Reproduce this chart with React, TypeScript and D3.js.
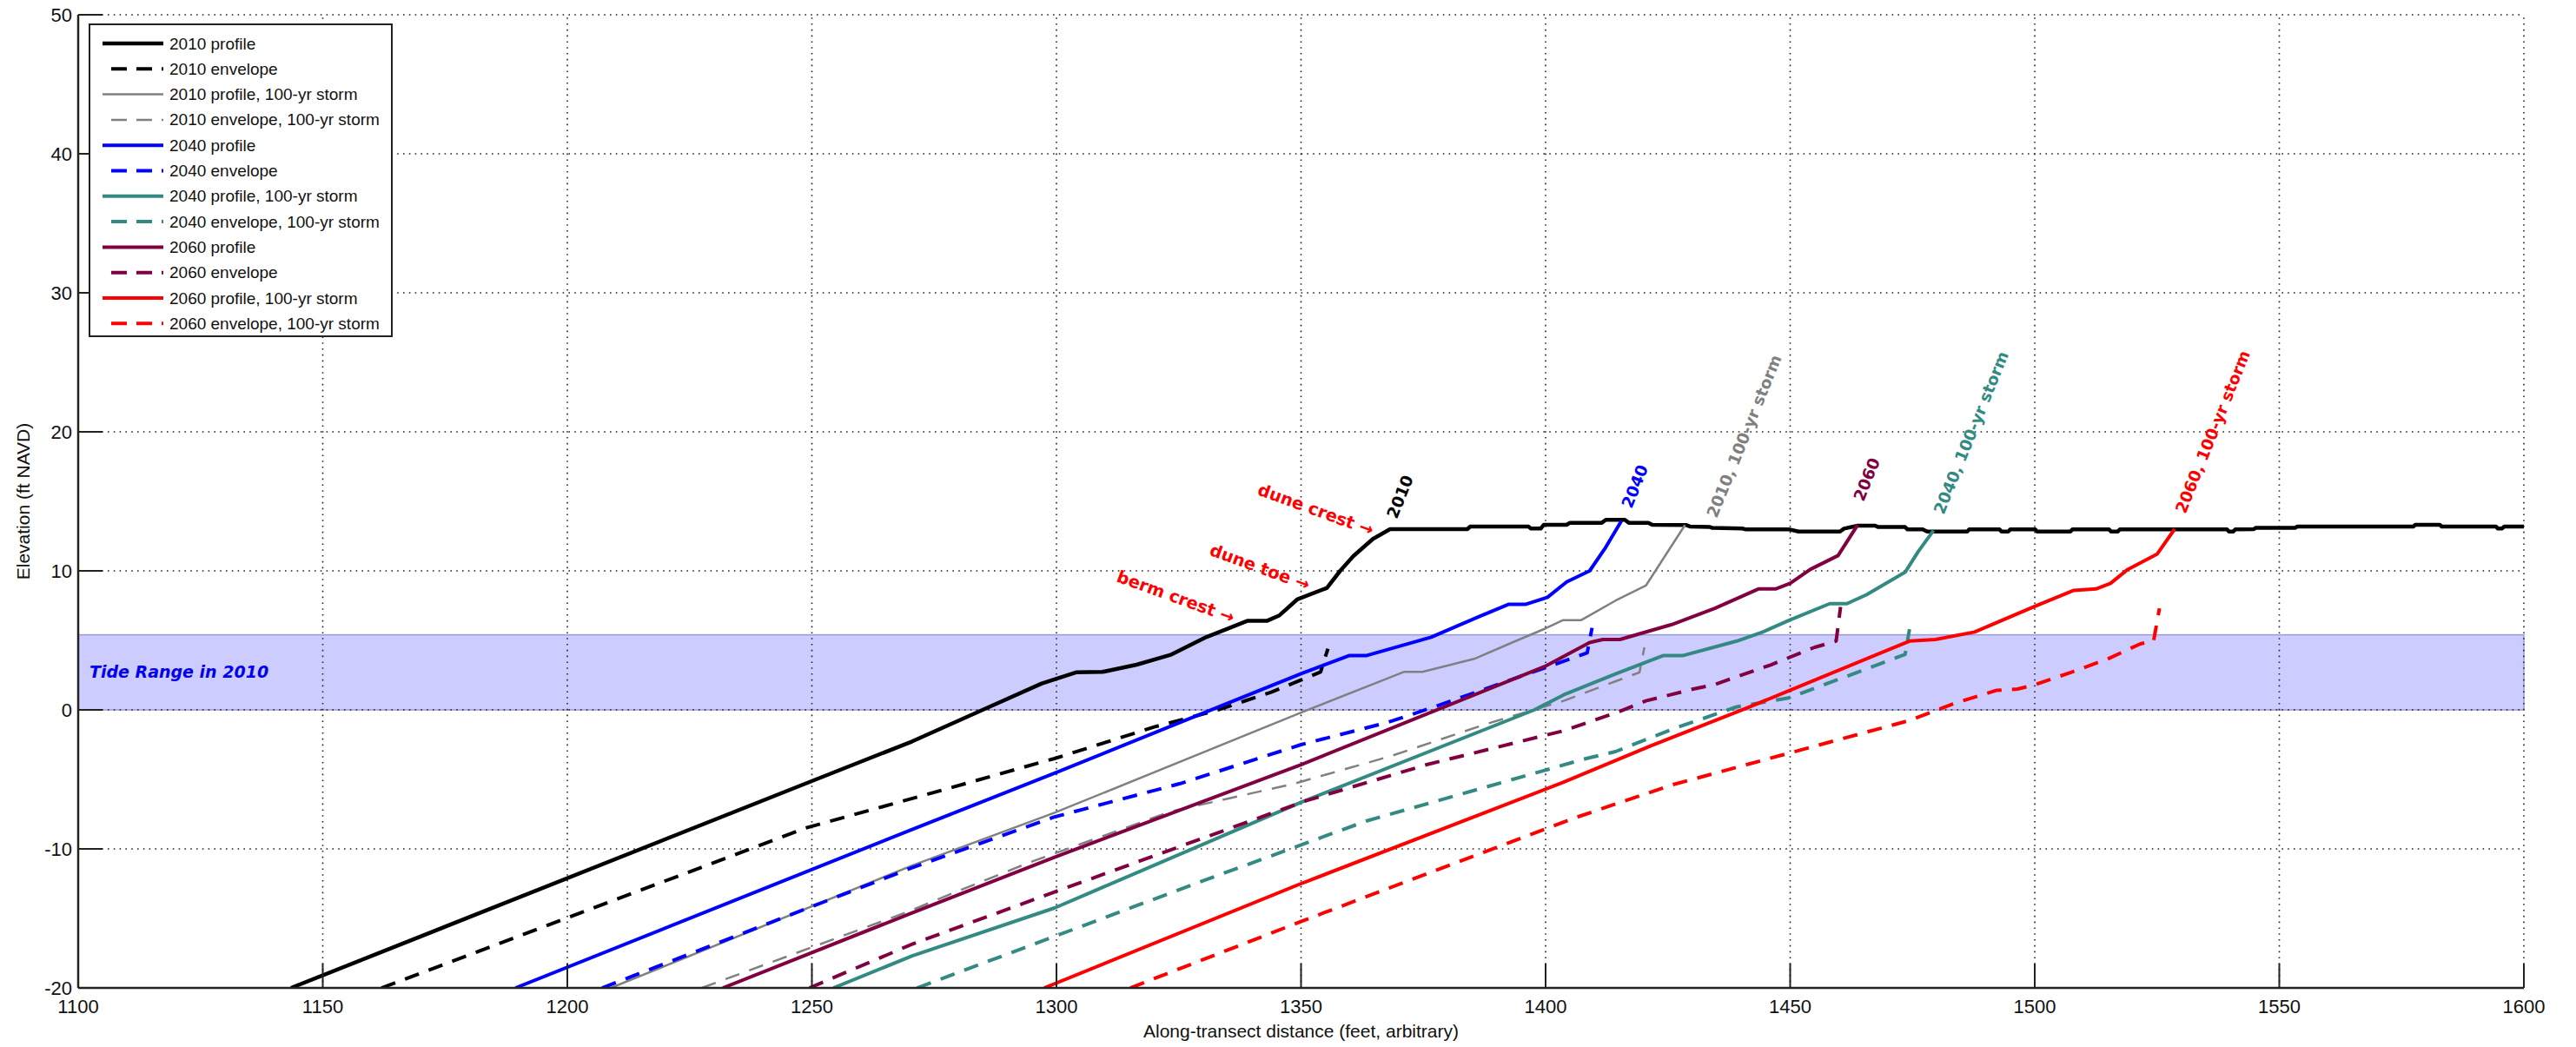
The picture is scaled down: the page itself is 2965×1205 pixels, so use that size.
import React from 'react';
import * as d3 from 'd3';

type Pt = [number, number];

// ---------- axis ticks ----------
const xTicks = [1100, 1150, 1200, 1250, 1300, 1350, 1400, 1450, 1500, 1550, 1600];
const yTicks = [-20, -10, 0, 10, 20, 30, 40, 50];

// ---------- tide range (ft NAVD) ----------
const tideRange: [number, number] = [0, 5.4];

// ---------- series (distance ft, elevation ft NAVD) ----------
const profile2010: Pt[] = [
  [1143.5, -20], [1250.3, -5.08], [1270.5, -2.27], [1286.4, 0.23], [1297, 1.9], [1304, 2.7],
  [1309.4, 2.73], [1316.4, 3.25], [1323.5, 3.98], [1330.6, 5.23], [1339, 6.4], [1343, 6.4],
  [1345.6, 6.8], [1349.2, 7.94], [1355.3, 8.77], [1358, 10.0], [1360.7, 11.06], [1364.7, 12.3],
  [1368.2, 13.0], [1384, 13.0], [1384.6, 13.19], [1396.5, 13.19], [1397, 13.04], [1399, 13.04],
  [1399.6, 13.31], [1404.3, 13.31], [1405, 13.46], [1411.5, 13.46], [1412.3, 13.67], [1416.2, 13.67],
  [1417, 13.46], [1421, 13.46], [1421.8, 13.31], [1428.7, 13.3], [1429.5, 13.19], [1433.6, 13.15],
  [1434, 13.1], [1440.2, 13.05], [1441, 12.98], [1449.9, 12.98], [1451.7, 12.83], [1460.2, 12.83],
  [1461, 13.04], [1463.8, 13.25], [1467.4, 13.25], [1468, 13.15], [1473.5, 13.15], [1474, 12.98],
  [1477.1, 12.98], [1478, 12.83], [1486.2, 12.83], [1486.6, 12.98], [1492.8, 12.98], [1493.2, 12.83],
  [1494.6, 12.83], [1495, 12.98], [1500.1, 12.98], [1500.5, 12.83], [1507.3, 12.83], [1507.7, 12.98],
  [1515.2, 12.98], [1515.6, 12.83], [1517, 12.83], [1517.4, 12.98], [1539.3, 12.98], [1539.7, 12.83],
  [1540.6, 12.83], [1541, 12.98], [1544.8, 13.0], [1545.2, 13.1], [1553.3, 13.1], [1553.7, 13.19],
  [1577.4, 13.19], [1577.8, 13.31], [1582.8, 13.31], [1583.2, 13.19], [1594.3, 13.19], [1594.7, 13.04],
  [1595.5, 13.04], [1596, 13.19], [1600, 13.19],
];
const envelope2010: Pt[] = [
  [1162, -20], [1248.7, -8.5], [1272.3, -6.2], [1299.6, -3.5], [1320, -1.23], [1332.3, -0.08],
  [1343.9, 1.27], [1354, 2.73], [1355.5, 4.4],
];
const profile2010Storm: Pt[] = [
  [1208.9, -20], [1270.5, -11.2], [1299.6, -7.4], [1350, -0.2], [1371, 2.73], [1374.8, 2.73],
  [1385.4, 3.67], [1394.2, 5.0], [1400, 5.86], [1403.5, 6.45], [1407.3, 6.46], [1409.5, 6.9],
  [1414.3, 7.86], [1420.5, 8.94], [1428.5, 13.3],
];
const envelope2010Storm: Pt[] = [
  [1227.5, -20], [1269.8, -14.5], [1279.4, -13.1], [1294.3, -11.0], [1323.5, -7.3], [1348.7, -5.3],
  [1368.6, -3.3], [1388, -1.0], [1403.7, 0.65], [1412.6, 1.83], [1419.2, 2.7], [1420.2, 4.5],
];
const profile2040: Pt[] = [
  [1189.4, -20], [1270.5, -8.6], [1299.6, -4.56], [1325.3, -0.9], [1350, 2.6], [1359.8, 3.9],
  [1363.3, 3.9], [1376.6, 5.23], [1386.3, 6.7], [1392.5, 7.6], [1396, 7.6], [1400.4, 8.1],
  [1404.3, 9.2], [1409, 10.0], [1412.3, 11.7], [1415.5, 13.6],
];
const envelope2040: Pt[] = [
  [1207.1, -20], [1270.5, -11.35], [1299.6, -7.7], [1325.3, -5.3], [1350, -2.5], [1367.7, -0.9],
  [1377.4, 0.23], [1408.5, 4.1], [1409.5, 5.9],
];
const profile2040Storm: Pt[] = [
  [1254.4, -20], [1270.5, -17.7], [1299.6, -14.25], [1350, -6.65], [1397.7, 0.0], [1403.7, 1.08],
  [1414.3, 2.59], [1424, 3.9], [1428, 3.9], [1439.1, 4.95], [1444.4, 5.6], [1449.9, 6.46],
  [1458.1, 7.64], [1461.6, 7.64], [1465.6, 8.28], [1473.5, 9.9], [1476.2, 11.4], [1479.3, 12.9],
];
const envelope2040Storm: Pt[] = [
  [1271.5, -20], [1328.4, -12.5], [1363.3, -8.0], [1408.3, -3.5], [1414.3, -3.0], [1425.8, -1.4],
  [1439.1, 0.22], [1449.7, 0.86], [1461.2, 2.37], [1473.5, 3.99], [1474.4, 5.8],
];
const profile2060: Pt[] = [
  [1231.8, -20], [1270.5, -14.6], [1299.6, -10.6], [1350, -3.94], [1400, 3.15], [1409, 4.84],
  [1411.7, 5.06], [1415.2, 5.06], [1425.8, 6.14], [1434.6, 7.3], [1443.5, 8.7], [1447, 8.7],
  [1450, 9.1], [1454.1, 10.1], [1459.8, 11.1], [1463.8, 13.3],
];
const envelope2060: Pt[] = [
  [1249.5, -20], [1270.5, -16.85], [1299.6, -13.1], [1351, -6.54], [1375.7, -3.94], [1403.7, -1.5],
  [1415.2, -0.1], [1420.5, 0.65], [1430.2, 1.5], [1434.6, 1.83], [1446, 3.23], [1455, 4.5],
  [1459.4, 4.95], [1460.3, 7.4],
];
const profile2060Storm: Pt[] = [
  [1297.5, -20], [1350, -12.5], [1403.7, -5.2], [1421.4, -2.6], [1440.9, 0.1], [1449.9, 1.4],
  [1474.4, 4.95], [1479.7, 5.06], [1487.7, 5.6], [1500, 7.45], [1508, 8.6], [1512.5, 8.7],
  [1515.5, 9.1], [1519, 10.1], [1525, 11.2], [1528.6, 13.0],
];
const envelope2060Storm: Pt[] = [
  [1315.1, -20], [1350.9, -15.1], [1405.7, -7.8], [1425.8, -5.4], [1449.9, -3.1], [1474.4, -0.76],
  [1483.3, 0.43], [1492.1, 1.4], [1496.5, 1.5], [1500, 1.8], [1507.4, 2.7], [1514.9, 3.66],
  [1521.6, 4.75], [1524.3, 4.95], [1525.5, 7.3],
];

const seriesNames = [
  '2010 profile', '2010 envelope', '2010 profile, 100-yr storm', '2010 envelope, 100-yr storm',
  '2040 profile', '2040 envelope', '2040 profile, 100-yr storm', '2040 envelope, 100-yr storm',
  '2060 profile', '2060 envelope', '2060 profile, 100-yr storm', '2060 envelope, 100-yr storm',
];

// ---------- text annotations (anchored in data coordinates) ----------
const featureNotes: { text: string; at: Pt }[] = [
  { text: 'dune crest \u2192', at: [1340.9, 15.5] },
  { text: 'dune toe \u2192', at: [1331.1, 11.15] },
  { text: 'berm crest \u2192', at: [1312.1, 9.25] },
];
const curveLabels: { text: string; at: Pt }[] = [
  { text: '2010', at: [1369.6, 13.69] },
  { text: '2040', at: [1417.6, 14.44] },
  { text: '2010, 100-yr storm', at: [1435.0, 13.75] },
  { text: '2060', at: [1465.0, 14.94] },
  { text: '2040, 100-yr storm', at: [1481.4, 14.0] },
  { text: '2060, 100-yr storm', at: [1530.8, 14.06] },
];
const tideLabel = { text: 'Tide Range in 2010', at: [1102.3, 2.31] as Pt };

const W = 2965;
const H = 1205;

export default function App() {
  const x = d3.scaleLinear().domain([1100, 1600]).range([90, 2905]);
  const y = d3.scaleLinear().domain([-20, 50]).range([1137, 17]);
  const line = d3.line<Pt>().x((d) => x(d[0])).y((d) => y(d[1]));

  const dash = '17,12';
  const series = [
    { data: profile2010, color: '#000000', width: 4.5, dash: null },
    { data: envelope2010, color: '#000000', width: 4, dash },
    { data: profile2010Storm, color: '#808080', width: 2.5, dash: null },
    { data: envelope2010Storm, color: '#808080', width: 2.5, dash },
    { data: profile2040, color: '#0000ff', width: 4, dash: null },
    { data: envelope2040, color: '#0000ff', width: 4, dash },
    { data: profile2040Storm, color: '#338a82', width: 4, dash: null },
    { data: envelope2040Storm, color: '#338a82', width: 4, dash },
    { data: profile2060, color: '#800040', width: 4, dash: null },
    { data: envelope2060, color: '#800040', width: 4, dash },
    { data: profile2060Storm, color: '#ff0000', width: 4, dash: null },
    { data: envelope2060Storm, color: '#ff0000', width: 4, dash },
  ];
  const labelColors = ['#000000', '#0000ff', '#808080', '#800040', '#338a82', '#ff0000'];

  const x0 = x(1100), x1 = x(1600), y0 = y(-20), y1 = y(50);
  const tickLen = 28;
  const gridDash = '1.6,5.2';
  const axisFont = "'Liberation Sans', Arial, Helvetica, sans-serif";
  const noteFont = "'DejaVu Sans', Verdana, sans-serif";

  const legend = { x: 103, y: 28, w: 348, h: 359, row0: 50, rowH: 29.3 };

  return (
    <svg width={W} height={H} style={{ position: 'absolute', left: 0, top: 0, background: '#fff' }}>
      <defs>
        <clipPath id="plotclip">
          <rect x={x0} y={y1} width={x1 - x0} height={y0 - y1} />
        </clipPath>
      </defs>
      <rect x={0} y={0} width={W} height={H} fill="#ffffff" />

      {/* tide band */}
      <rect x={x0} y={y(tideRange[1])} width={x1 - x0} height={y(tideRange[0]) - y(tideRange[1])}
        fill="#ccccff" stroke="#9a9ad6" strokeWidth={1.5} />

      {/* grid */}
      {yTicks.map((t) => (
        <line key={'gy' + t} x1={x0} x2={x1} y1={y(t)} y2={y(t)} stroke="#222" strokeWidth={1.6} strokeDasharray={gridDash} />
      ))}
      {xTicks.map((t) => (
        <line key={'gx' + t} x1={x(t)} x2={x(t)} y1={y0} y2={y1} stroke="#222" strokeWidth={1.6} strokeDasharray={gridDash} />
      ))}

      {/* series */}
      <g clipPath="url(#plotclip)" fill="none" strokeLinejoin="round">
        {series.map((s, i) => (
          <path key={'s' + i} d={line(s.data) || ''} stroke={s.color} strokeWidth={s.width}
            strokeDasharray={s.dash || undefined} />
        ))}
      </g>

      {/* axes */}
      <line x1={x0} x2={x0} y1={y1} y2={y0} stroke="#222" strokeWidth={2.5} />
      <line x1={x0} x2={x1} y1={y0} y2={y0} stroke="#222" strokeWidth={2.5} />
      {yTicks.map((t) => (
        <line key={'ty' + t} x1={x0} x2={x0 + tickLen} y1={y(t)} y2={y(t)} stroke="#222" strokeWidth={2} />
      ))}
      {xTicks.map((t) => (
        <line key={'tx' + t} x1={x(t)} x2={x(t)} y1={y0} y2={y0 - tickLen} stroke="#222" strokeWidth={2} />
      ))}
      {yTicks.map((t) => (
        <text key={'ly' + t} x={x0 - 7} y={y(t)} textAnchor="end" dominantBaseline="central"
          fontFamily={axisFont} fontSize={22} fill="#111">{t}</text>
      ))}
      {xTicks.map((t) => (
        <text key={'lx' + t} x={x(t)} y={1166} textAnchor="middle"
          fontFamily={axisFont} fontSize={22} fill="#111">{t}</text>
      ))}
      <text x={(x0 + x1) / 2} y={1194} textAnchor="middle" fontFamily={axisFont} fontSize={21} fill="#111">
        Along-transect distance (feet, arbitrary)
      </text>
      <text transform={`translate(34, ${(y0 + y1) / 2}) rotate(-90)`} textAnchor="middle"
        fontFamily={axisFont} fontSize={21} fill="#111">Elevation (ft NAVD)</text>

      {/* tide label */}
      <text x={x(tideLabel.at[0])} y={y(tideLabel.at[1])} fontFamily={noteFont} fontSize={19}
        fontWeight="bold" fontStyle="italic" fill="#0000ee">{tideLabel.text}</text>

      {/* feature notes */}
      {featureNotes.map((n, i) => (
        <text key={'fn' + i} transform={`translate(${x(n.at[0])}, ${y(n.at[1])}) rotate(20)`}
          fontFamily={noteFont} fontSize={19.5} fontWeight="bold" fill="#ff0000">{n.text}</text>
      ))}

      {/* curve labels */}
      {curveLabels.map((n, i) => (
        <text key={'cl' + i} transform={`translate(${x(n.at[0])}, ${y(n.at[1])}) rotate(-68)`}
          fontFamily={noteFont} fontSize={18.5} fontWeight="bold" fill={labelColors[i]}>{n.text}</text>
      ))}

      {/* legend */}
      <rect x={legend.x} y={legend.y} width={legend.w} height={legend.h} fill="#fff" stroke="#222" strokeWidth={2} />
      {seriesNames.map((name, i) => {
        const cy = legend.row0 + i * legend.rowH;
        const s = series[i];
        return (
          <g key={'lg' + i}>
            <line x1={s.dash ? 128 : 118} x2={188} y1={cy} y2={cy} stroke={s.color}
              strokeWidth={s.width} strokeDasharray={s.dash ? '18,11' : undefined} />
            <text x={195} y={cy} dominantBaseline="central" fontFamily={axisFont} fontSize={19} fill="#111">{name}</text>
          </g>
        );
      })}
    </svg>
  );
}
